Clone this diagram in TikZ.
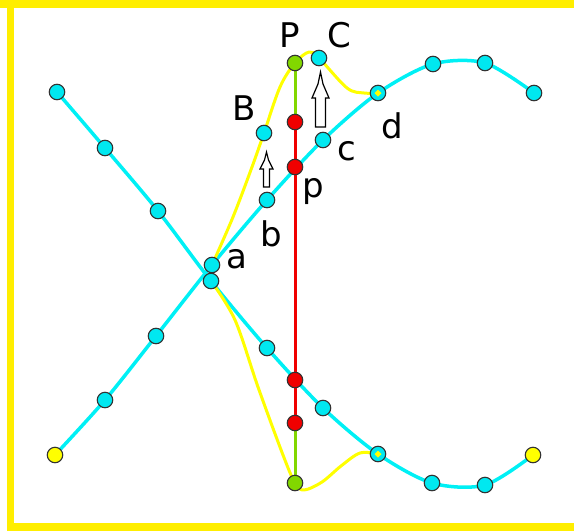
\documentclass[tikz,border=0pt]{standalone}
\usepackage{fontspec}
\setmainfont{DejaVu Sans}
\definecolor{frame}{RGB}{255,238,0}
\definecolor{cy}{RGB}{0,240,245}
\definecolor{cyf}{RGB}{0,232,240}
\definecolor{yl}{RGB}{255,255,0}
\definecolor{gr}{RGB}{130,215,0}
\definecolor{rd}{RGB}{240,0,0}
\definecolor{ol}{RGB}{50,50,50}
\tikzset{
  pt/.style={circle, draw=ol, line width=1.1pt, minimum size=15.5pt, inner sep=0pt, fill=cyf},
  ptY/.style={pt, path picture={\fill[yl] (path picture bounding box.center) +(0,-3.5) -- +(3.5,0) -- +(0,3.5) -- +(-3.5,0) -- cycle;}},
  ptYellow/.style={pt, fill=yl},
  ptGreen/.style={pt, fill=gr},
  ptRed/.style={pt, fill=rd},
  cyline/.style={draw=cy, line width=3.5pt, line cap=round, line join=round},
  ylline/.style={draw=yl, line width=3pt, line cap=round, line join=round},
  lbl/.style={font=\fontsize{34}{40}\selectfont, text=black, inner sep=0pt, anchor=base},
  hollow/.style={draw=black, fill=white, line width=1.2pt, line join=miter}
}
\begin{document}
\begin{tikzpicture}[x=1pt,y=-1pt]
\useasboundingbox (0,0) rectangle (574,531);
% frame
\fill[frame] (0,0) rectangle (574,7.5);
\fill[frame] (7,0) rectangle (13.5,531);
\fill[frame] (7,523) rectangle (574,531);
% coordinates: descending curve
\coordinate (D1) at (57,92);
\coordinate (D2) at (105,148);
\coordinate (D3) at (158,211);
\coordinate (D4) at (211,281);
\coordinate (D5) at (267,348);
\coordinate (D6) at (323,408);
\coordinate (D7) at (378,454);
\coordinate (D8) at (432,483);
\coordinate (D9) at (485,485);
\coordinate (D10) at (533,455);
% ascending curve
\coordinate (A1) at (55,455);
\coordinate (A2) at (105,400);
\coordinate (A3) at (156,336);
\coordinate (A4) at (212,265);
\coordinate (A5) at (267,200);
\coordinate (A6) at (323,140);
\coordinate (A7) at (378,93);
\coordinate (A8) at (433,64);
\coordinate (A9) at (485,63);
\coordinate (A10) at (534,93);
% others
\coordinate (B) at (264,133);
\coordinate (C) at (319,58);
\coordinate (P) at (295,63);
\coordinate (R1) at (295,122);
\coordinate (R2) at (295,167);
\coordinate (R3) at (295,380);
\coordinate (R4) at (295,423);
\coordinate (Q) at (295,483);
% cyan curves
\draw[cyline] plot[smooth, tension=0.5] coordinates {(D1) (D2) (D3) (D4) (D5) (D6) (D7) (D8) (D9) (D10)};
\draw[cyline] plot[smooth, tension=0.5] coordinates {(A1) (A2) (A3) (A4) (A5) (A6) (A7) (A8) (A9) (A10)};
% yellow curves
\draw[ylline] plot[smooth, tension=0.55] coordinates {(A4) (233,217) (252,167) (B) (280,87) (P) (309,52) (C) (347,88) (364,93) (A7)};
\draw[ylline] plot[smooth, tension=0.55] coordinates {(D4) (235,320) (258,387) (283,455) (Q) (304,490) (322,482) (341,466) (360,453) (D7)};
% vertical
\draw[draw=gr, line width=3pt] (P) -- (R1);
\draw[draw=rd, line width=3pt] (R1) -- (R2) -- (R3) -- (R4);
\draw[draw=gr, line width=3pt] (R4) -- (Q);
% arrows
\draw[hollow] (263.5,187) -- (263.5,169) -- (260,169) -- (264.5,160) -- (266.5,152) -- (268.5,160) -- (273,169) -- (269.5,169) -- (269.5,187) -- cycle;
\draw[hollow] (315.5,127) -- (315.5,98) -- (312,98) -- (318,84) -- (320.5,72) -- (323,84) -- (329,98) -- (325.5,98) -- (325.5,127) -- cycle;
% point nodes
\node[pt] (n-D1) at (D1) {};
\node[pt] (n-D2) at (D2) {};
\node[pt] (n-D3) at (D3) {};
\node[pt] (n-D4) at (D4) {};
\node[pt] (n-D5) at (D5) {};
\node[pt] (n-D6) at (D6) {};
\node[ptY] (n-D7) at (D7) {};
\node[pt] (n-D8) at (D8) {};
\node[pt] (n-D9) at (D9) {};
\node[ptYellow] (n-D10) at (D10) {};
\node[ptYellow] (n-A1) at (A1) {};
\node[pt] (n-A2) at (A2) {};
\node[pt] (n-A3) at (A3) {};
\node[pt] (n-A4) at (A4) {};
\node[pt] (n-A5) at (A5) {};
\node[pt] (n-A6) at (A6) {};
\node[ptY] (n-A7) at (A7) {};
\node[pt] (n-A8) at (A8) {};
\node[pt] (n-A9) at (A9) {};
\node[pt] (n-A10) at (A10) {};
\node[pt] (n-B) at (B) {};
\node[pt] (n-C) at (C) {};
\node[ptGreen] (n-P) at (P) {};
\node[ptRed] (n-R1) at (R1) {};
\node[ptRed] (n-R2) at (R2) {};
\node[ptRed] (n-R3) at (R3) {};
\node[ptRed] (n-R4) at (R4) {};
\node[ptGreen] (n-Q) at (Q) {};
% labels
\node[lbl] (lP) at (290,47) {P};
\node[lbl] (lC) at (339,47) {C};
\node[lbl] (lB) at (244,120) {B};
\node[lbl] (ld) at (392,138) {d};
\node[lbl] (lc) at (347,160) {c};
\node[lbl] (lp) at (313,197) {p};
\node[lbl] (lb) at (271,246) {b};
\node[lbl] (la) at (237,268) {a};
\end{tikzpicture}
\end{document}
